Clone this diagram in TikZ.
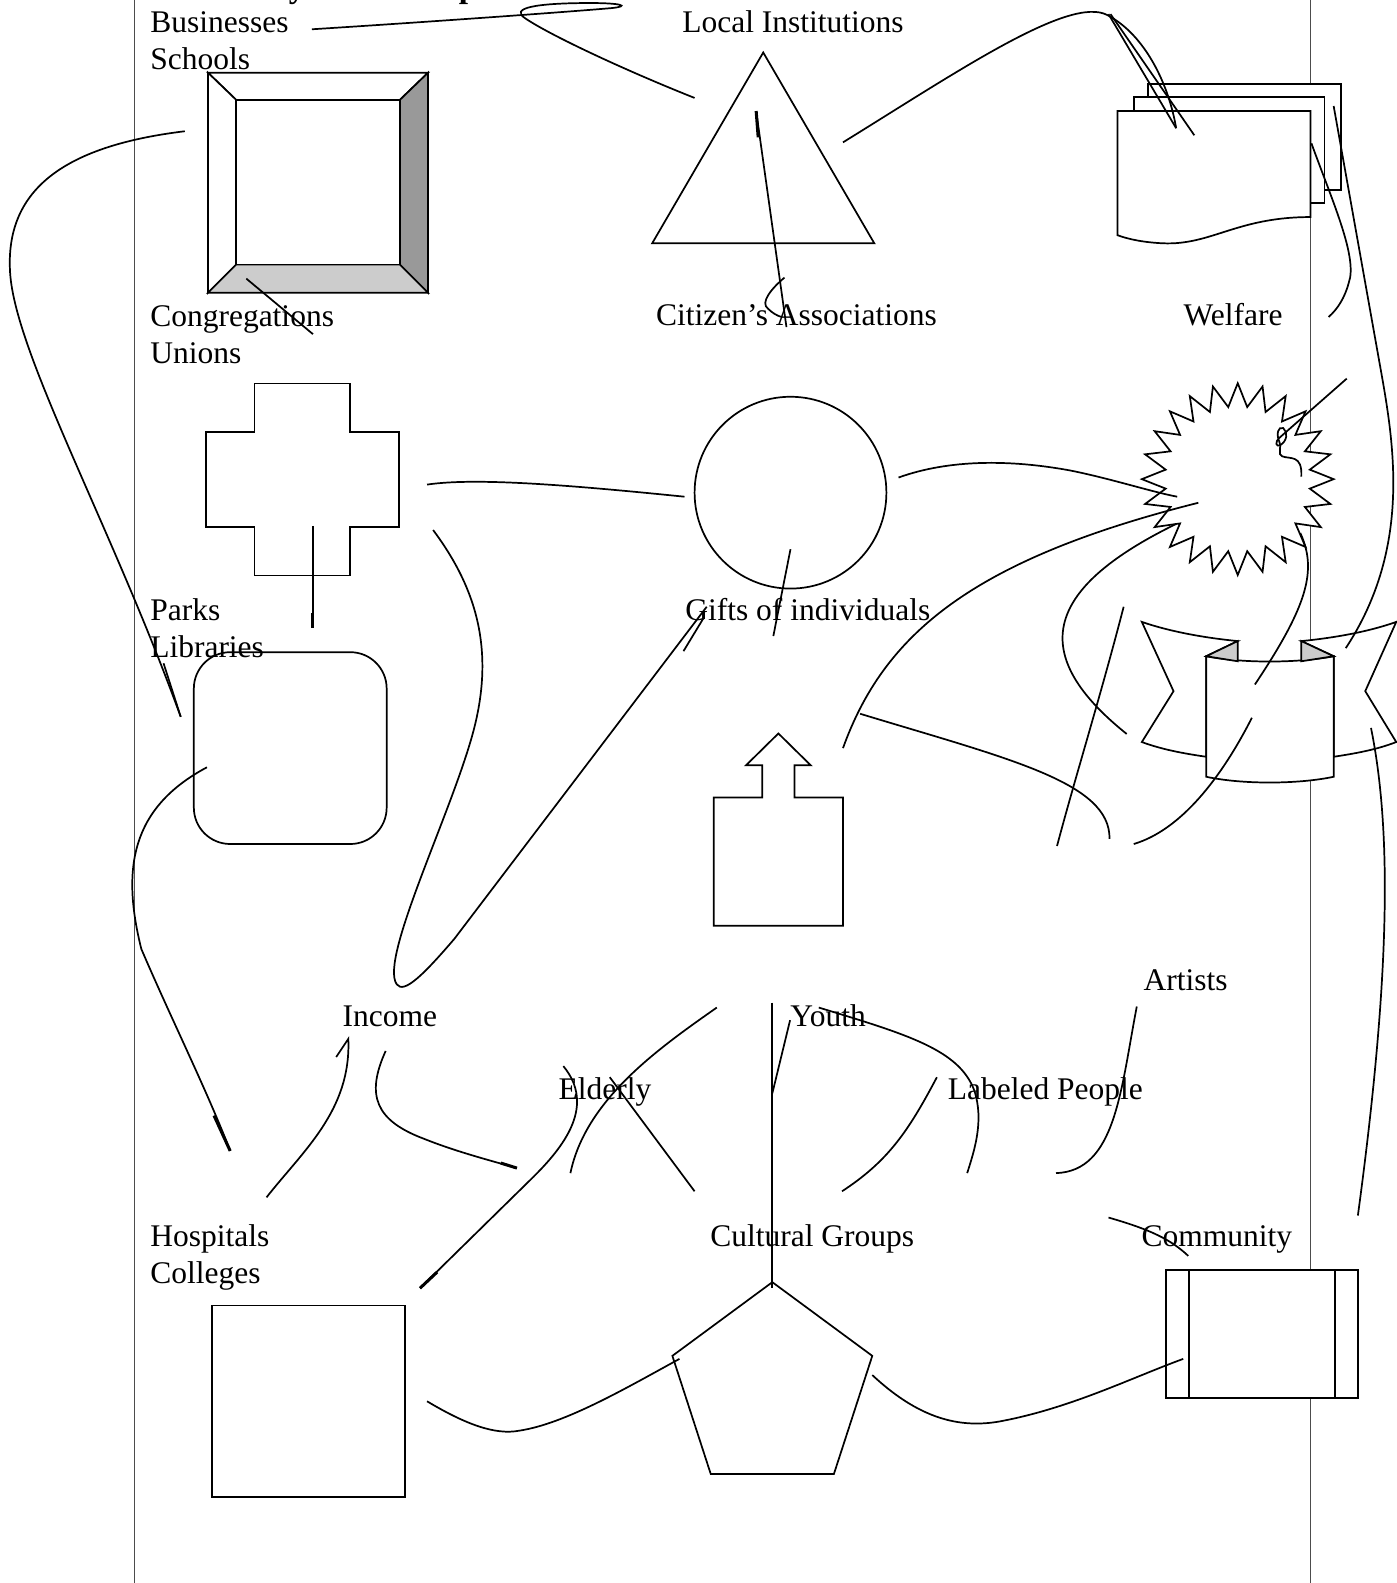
\documentclass[tikz,border=0pt]{standalone}
\usepackage{fontspec}
\setmainfont{Liberation Serif}
\begin{document}
\begin{tikzpicture}[x=1pt,y=-1pt,line width=1.7pt,
  lbl/.style={anchor=base west,inner sep=0pt,font=\fontsize{31.2}{37}\selectfont},
  shp/.style={draw=black,fill=white,line width=1.7pt},
  con/.style={draw=black,line width=1.7pt},
  thick end/.style={draw=black,line width=3pt},
  margin/.style={draw=black!70,line width=1pt}]
\useasboundingbox (0,0) rectangle (1383,1568);
% page margins
\draw[margin] (133,-5) -- (133,1575);
\draw[margin] (1298.5,-5) -- (1298.5,1575);
% title (cut off at the top)
\node[anchor=base west,inner sep=0pt,font=\bfseries\fontsize{33}{40}\selectfont] (title) at (133,-2.5) {Community Assets Map};

% ---------- shapes ----------
% bevel box (Schools)
\fill[white] (206,72) rectangle (424,290);
\filldraw[draw=black,fill=white] (206,72) -- (424,72) -- (396,99) -- (234,99) -- cycle;
\filldraw[draw=black,fill=white] (206,72) -- (234,99) -- (234,262) -- (206,290) -- cycle;
\filldraw[draw=black,fill=black!40] (424,72) -- (424,290) -- (396,262) -- (396,99) -- cycle;
\filldraw[draw=black,fill=black!20] (206,290) -- (424,290) -- (396,262) -- (234,262) -- cycle;
\draw[shp] (234,99) rectangle (396,262);
% triangle (Local Institutions)
\draw[shp] (756,52) -- (866,241) -- (646,241) -- cycle;
% document stack (Welfare)
\draw[shp] (1137,83) rectangle (1328,188);
\draw[shp] (1123,96) rectangle (1312,201);
\draw[shp] (1107,110) -- (1298,110) -- (1298,215) .. controls (1225,215) and (1200,243) .. (1152,241) .. controls (1130,240) and (1115,236) .. (1107,233) -- cycle;
% cross (Unions)
\draw[shp] (252,380) -- (347,380) -- (347,428) -- (395,428) -- (395,522) -- (347,522) -- (347,570) -- (252,570) -- (252,522) -- (204,522) -- (204,428) -- (252,428) -- cycle;
% circle (Gifts)
\draw[shp] (783,488) circle[radius=95];
% starburst
\draw[shp] plot[variable=\k,samples at={0,...,47}] ({1226+(83.5+11.5*cos(\k*180))*cos(\k*7.5)},{474.6+(83.5+11.5*cos(\k*180))*sin(\k*7.5)}) -- cycle;
% rounded square (Libraries)
\draw[shp,rounded corners=36pt] (192,646) rectangle (383,836);
% arrow box
\draw[shp] (707,790) -- (755,790) -- (755,758) -- (739,758) -- (771,726.5) -- (803,758) -- (787,758) -- (787,790) -- (835,790) -- (835,917) -- (707,917) -- cycle;
% banner
\draw[shp] (1131,616) .. controls (1160,626) and (1195,632) .. (1226,635) -- (1194.8,650) -- (1194.8,749.6) .. controls (1170,746) and (1150,742) .. (1131,735) -- (1162.4,684.6) -- cycle;
\draw[shp] (1289,635) .. controls (1320,632) and (1355,626) .. (1383,616) -- (1352.3,684.6) -- (1383,735) .. controls (1365,742) and (1345,746) .. (1321,749.6) -- (1321,650) -- cycle;
\draw[shp] (1194.8,650) .. controls (1230,657) and (1285,657) .. (1321,650) -- (1321,769.4) .. controls (1285,777) and (1230,777) .. (1194.8,769.4) -- cycle;
\filldraw[draw=black,fill=black!20] (1226,635) -- (1194.8,650) -- (1226,655) -- cycle;
\filldraw[draw=black,fill=black!20] (1289,635) -- (1289,655) -- (1321,650) -- cycle;
% square (Colleges)
\draw[shp] (210,1293) rectangle (401,1483);
% pentagon (Cultural Groups)
\draw[shp] (765,1270) -- (864,1343) -- (826,1460) -- (704,1460) -- (666,1343) -- cycle;
% community box
\draw[shp] (1155,1258) rectangle (1345,1385);
\draw (1178,1258) -- (1178,1385);
\draw (1322,1258) -- (1322,1385);

% ---------- connector end points ----------
\coordinate (bus) at (309,29);      \coordinate (inst) at (688,97);
\coordinate (triR) at (835,141);    \coordinate (docA) at (1165,127);
\coordinate (pk) at (1098,14);      \coordinate (pk2) at (1100,14);
\coordinate (docB) at (1183,134);
\coordinate (docR) at (1299,142);   \coordinate (welf) at (1316,314);
\coordinate (docT) at (1321,105);   \coordinate (banR) at (1333,642);
\coordinate (brstA) at (1334,375);  \coordinate (brstB) at (1289,472);
\coordinate (beveL) at (183,130);   \coordinate (parkL) at (179,710);
\coordinate (beveB) at (244,276);   \coordinate (congr) at (310,331);
\coordinate (triIn) at (749,110);   \coordinate (citz) at (779,324);
\coordinate (crsR) at (423,480);    \coordinate (cirL) at (678,492);
\coordinate (crsB) at (310,521);    \coordinate (parkT) at (310,622);
\coordinate (cirR) at (890,473);    \coordinate (brstL) at (1166,492);
\coordinate (crsD) at (429,525);    \coordinate (gift) at (700,601);
\coordinate (cirB) at (783,544);    \coordinate (giftT) at (766,630);
\coordinate (arrR) at (835,741);    \coordinate (brstC) at (1187,498);
\coordinate (brstD) at (1165,519);  \coordinate (banL) at (1116,727);
\coordinate (arrS) at (852,707);    \coordinate (lowA) at (1099,831);
\coordinate (banT) at (1113,601);   \coordinate (lowB) at (1047,838);
\coordinate (banC) at (1240,711);   \coordinate (lowC) at (1123,836);
\coordinate (brstE) at (1288,528);  \coordinate (banD) at (1243,678);
\coordinate (banE) at (1358,721);   \coordinate (comm) at (1345,1204);
\coordinate (libL) at (205,760);    \coordinate (hosp) at (228,1140);
\coordinate (hospA) at (264,1186);  \coordinate (incA) at (345,1029);
\coordinate (incB) at (382,1041);   \coordinate (eldA) at (512,1157);
\coordinate (colA) at (416,1276);   \coordinate (eldB) at (558,1056);
\coordinate (youA) at (710,998);    \coordinate (eldC) at (565,1162);
\coordinate (eldD) at (604,1067);   \coordinate (cultA) at (688,1180);
\coordinate (youB) at (765,993);    \coordinate (pentT) at (765,1276);
\coordinate (youC) at (765,1083);   \coordinate (youD) at (782.6,1010.5);
\coordinate (youE) at (811,998);    \coordinate (labA) at (958,1162);
\coordinate (labB) at (928,1067);   \coordinate (cultB) at (834,1180);
\coordinate (artA) at (1126,997);   \coordinate (labC) at (1046,1162);
\coordinate (comA) at (1098,1206);  \coordinate (comB) at (1177,1244);
\coordinate (colB) at (423,1388);   \coordinate (pentL) at (673,1346);
\coordinate (pentR) at (864,1362);  \coordinate (comL) at (1172,1346);

% ---------- connectors ----------
\draw[con] (bus) .. controls (420,22) and (560,12) .. (606,8) .. controls (625,6) and (615,3) .. (585,3) .. controls (530,3) and (505,8) .. (520,18) .. controls (545,35) and (620,70) .. (inst);
\draw[con] (triR) .. controls (950,70) and (1060,-5) .. (1097,15) .. controls (1135,35) and (1158,85) .. (docA);
\draw[con] (pk) -- (docA);
\draw[con] (pk2) -- (docB);
\draw[con] (docR) .. controls (1320,200) and (1345,255) .. (1336,280) .. controls (1332,295) and (1325,306) .. (welf);
\draw[con] (docT) -- (1366,357) .. controls (1380,435) and (1400,540) .. (banR);
\draw[con] (brstA) -- (1268,433) .. controls (1262,438) and (1264,443) .. (1268,441) .. controls (1275,437) and (1276,428) .. (1271,424) .. controls (1266,422) and (1264,430) .. (1267,437) .. controls (1270,444) and (1265,450) .. (1270,452) .. controls (1278,455) and (1290,450) .. (brstB);
\draw[con] (beveL) .. controls (60,145) and (5,190) .. (10,270) .. controls (15,350) and (110,520) .. (parkL);
\draw[con] (162,657) -- (parkL);
\draw[con] (beveB) -- (congr);
\draw[con] (triIn) -- (citz);
\draw[thick end] (749,110) -- (751,136);
\draw[con] (777,275) .. controls (765,285) and (752,300) .. (761,306) .. controls (765,310) and (770,313) .. (774.4,314);
\draw[con] (crsR) .. controls (470,473) and (560,480) .. (cirL);
\draw[con] (crsB) -- (parkT);
\draw[thick end] (310,607) -- (parkT);
\draw[con] (cirR) .. controls (940,455) and (1000,455) .. (1060,466) .. controls (1100,474) and (1140,487) .. (brstL);
\draw[con] (crsD) .. controls (470,580) and (490,640) .. (470,720) .. controls (450,800) and (375,950) .. (393,975) .. controls (400,985) and (420,965) .. (450,930) -- (gift);
\draw[con] (677,645) -- (697,612);
\draw[con] (cirB) -- (giftT);
\draw[con] (arrR) .. controls (875,630) and (960,555) .. (brstC);
\draw[con] (brstD) .. controls (1030,585) and (1020,650) .. (banL);
\draw[con] (arrS) .. controls (1000,752) and (1100,775) .. (lowA);
\draw[con] (banT) .. controls (1090,690) and (1065,770) .. (lowB);
\draw[con] (banC) .. controls (1210,770) and (1170,822) .. (lowC);
\draw[con] (brstE) .. controls (1305,565) and (1295,600) .. (banD);
\draw[con] (banE) .. controls (1378,820) and (1378,960) .. (comm);
\draw[con] (libL) .. controls (130,800) and (120,860) .. (140,940) .. controls (170,1010) and (205,1080) .. (hosp);
\draw[thick end] (212,1105) -- (hosp);
\draw[con] (hospA) .. controls (300,1140) and (348,1100) .. (incA) -- (333,1047);
\draw[con] (incB) .. controls (362,1085) and (372,1110) .. (420,1128) .. controls (450,1140) and (480,1148) .. (eldA);
\draw[thick end] (496,1152) -- (eldA);
\draw[con] (colA) -- (525,1169) .. controls (560,1135) and (590,1095) .. (eldB);
\draw[thick end] (colA) -- (433,1260);
\draw[con] (youA) .. controls (650,1040) and (580,1090) .. (eldC);
\draw[con] (eldD) -- (cultA);
\draw[con] (youB) -- (pentT);
\draw[con] (youC) -- (youD);
\draw[con] (youE) .. controls (900,1025) and (950,1040) .. (965,1080) .. controls (975,1110) and (965,1140) .. (labA);
\draw[con] (labB) .. controls (900,1120) and (880,1150) .. (cultB);
\draw[con] (artA) .. controls (1110,1080) and (1105,1160) .. (labC);
\draw[con] (comA) .. controls (1140,1218) and (1160,1228) .. (comB);
\draw[con] (colB) .. controls (460,1410) and (490,1422) .. (515,1417) .. controls (560,1410) and (620,1375) .. (pentL);
\draw[con] (pentR) .. controls (910,1405) and (950,1415) .. (990,1408) .. controls (1060,1395) and (1120,1365) .. (comL);

% ---------- labels ----------
\node[lbl] (tBus) at (148,32.5) {Businesses};
\node[lbl] (tSch) at (148,69) {Schools};
\node[lbl] (tLoc) at (675,32.5) {Local Institutions};
\node[lbl] (tCon) at (148,323) {Congregations};
\node[lbl] (tUni) at (148,360) {Unions};
\node[lbl] (tCit) at (649,322) {Citizen’s Associations};
\node[lbl] (tWel) at (1171.6,322) {Welfare};
\node[lbl] (tPar) at (148,615) {Parks};
\node[lbl] (tLib) at (148,651.2) {Libraries};
\node[lbl] (tGif) at (678,615) {Gifts of individuals};
\node[lbl] (tArt) at (1132,980.8) {Artists};
\node[lbl] (tInc) at (338.5,1017) {Income};
\node[lbl] (tYou) at (782,1017) {Youth};
\node[lbl] (tEld) at (552.5,1089) {Elderly};
\node[lbl] (tLab) at (938,1089) {Labeled People};
\node[lbl] (tHos) at (148,1235) {Hospitals};
\node[lbl] (tCol) at (148,1271.4) {Colleges};
\node[lbl] (tCul) at (702.7,1235) {Cultural Groups};
\node[lbl] (tCom) at (1130,1234.4) {Community};
\end{tikzpicture}
\end{document}
